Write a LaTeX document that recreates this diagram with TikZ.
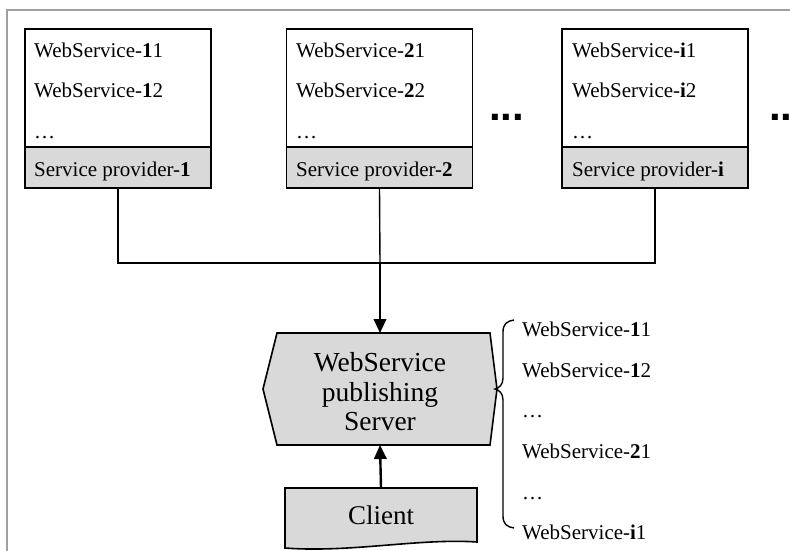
\documentclass[tikz,border=0pt]{standalone}
\usepackage{fontspec}
\setmainfont{Liberation Serif}
\newfontfamily\moredotsfont{Liberation Sans}
\usetikzlibrary{arrows.meta}
\definecolor{boxgray}{HTML}{D9D9D9}
\definecolor{framegray}{HTML}{A0A0A0}

\begin{document}
\begin{tikzpicture}[x=1pt,y=-1pt,
  listbox/.style={draw, line width=1.8pt, fill=white, minimum width=186pt, minimum height=118pt, inner sep=0pt},
  provbox/.style={draw, line width=1.8pt, fill=boxgray, minimum width=186pt, minimum height=41pt, inner sep=0pt},
  lbl/.style={anchor=base west, inner sep=0pt, font=\fontsize{21}{25}\selectfont},
  moredots/.style={anchor=base west, inner sep=0pt, font=\moredotsfont\bfseries\fontsize{42}{42}\selectfont},
  conn/.style={line width=2pt},
  connthin/.style={line width=1.4pt},
  flow/.style={line width=2.4pt, -{Triangle[length=14pt,width=12.5pt]}},
  shapeline/.style={draw, line width=1.6pt, fill=boxgray, line join=miter},
]
\useasboundingbox (0,0) rectangle (790,551);
\fill[white] (0,0) rectangle (790,551);

% outer frame
\draw[framegray, line width=2pt] (7,560) -- (7,10) -- (800,10);

% service providers
\node[listbox] (b1) at (118,88) {};
\node[provbox] (p1) at (118,167.5) {};
\node[listbox] (b2) at (379.5,88) {};
\node[provbox] (p2) at (379.5,167.5) {};
\node[listbox] (b3) at (655,88) {};
\node[provbox] (p3) at (655,167.5) {};

\node[lbl] (w11) at (34,58) {WebService-\textbf{1}1};
\node[lbl] (w12) at (34,98) {WebService-\textbf{1}2};
\node[lbl] (w1d) at (34,138) {…};
\node[lbl] (t1) at (34,176) {Service provider-\textbf{1}};

\node[lbl] (w21) at (296,58) {WebService-\textbf{2}1};
\node[lbl] (w22) at (296,98) {WebService-\textbf{2}2};
\node[lbl] (w2d) at (296,138) {…};
\node[lbl] (t2) at (296,176) {Service provider-\textbf{2}};

\node[lbl] (wi1) at (572,58) {WebService-\textbf{i}1};
\node[lbl] (wi2) at (572,98) {WebService-\textbf{i}2};
\node[lbl] (wid) at (572,138) {…};
\node[lbl] (ti) at (572,176) {Service provider-\textbf{i}};

\node[moredots] (more1) at (489,120) {...};
\node[moredots] (more2) at (769,120) {...};

% publishing server
\path[shapeline] (277,333) -- (490,333) -- (497,389) -- (490,445) -- (277,445) -- (263,389) -- cycle;
\node[minimum width=234pt, minimum height=112pt, inner sep=0pt, align=center,
      font=\fontsize{27.5}{29.5}\selectfont] (srv) at (380,392) {WebService\\publishing\\Server};

% client
\path[shapeline] (285,488) -- (477,488) -- (477,542)
  .. controls (420,538) and (350,553) .. (285,548) -- cycle;
\node[minimum width=192pt, minimum height=54pt, inner sep=0pt,
      font=\fontsize{27}{29}\selectfont] (cli) at (381,515) {Client};

% connectors
\coordinate (hub) at (380,263);
\coordinate (srvtop) at (380,333);
\coordinate (srvbot) at (380,445);
\draw[conn] (p1.south) |- (hub) -| (p3.south);
\draw[connthin] (p2.south) -- (hub);
\draw[flow] (hub) -- (srvtop);
\draw[flow] (cli.north) -- (srvbot);

% published services
\draw[line width=1.4pt] (514,320) .. controls (507,321) and (503,324) .. (503,332)
  -- (503,378) .. controls (503,385) and (499,388) .. (495,389)
  .. controls (499,390) and (503,393) .. (503,400)
  -- (503,516) .. controls (503,524) and (507,527) .. (514,528);

\node[lbl] (r1) at (522,336) {WebService-\textbf{1}1};
\node[lbl] (r2) at (522,377) {WebService-\textbf{1}2};
\node[lbl] (r3) at (522,417) {…};
\node[lbl] (r4) at (522,458) {WebService-\textbf{2}1};
\node[lbl] (r5) at (522,499) {…};
\node[lbl] (r6) at (522,539) {WebService-\textbf{i}1};
\end{tikzpicture}
\end{document}
